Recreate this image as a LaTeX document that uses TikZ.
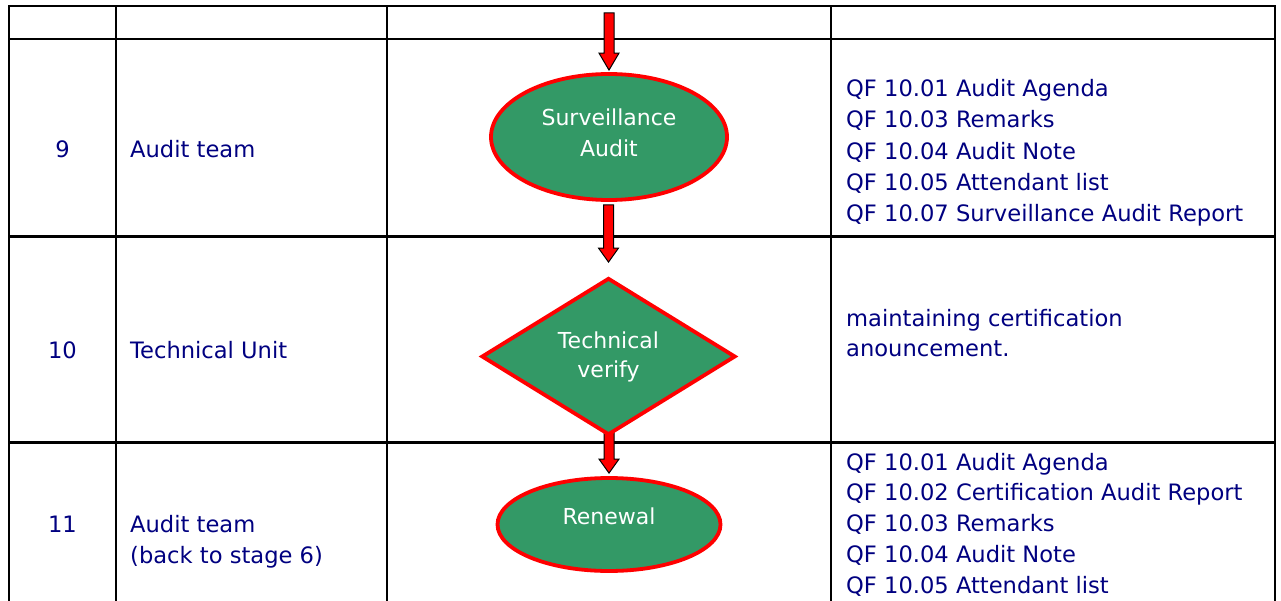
\documentclass[tikz,border=0pt]{standalone}
\usepackage{fontspec}
\setmainfont{DejaVu Sans}
\usetikzlibrary{shapes.geometric,calc,backgrounds}
\definecolor{navytext}{RGB}{0,0,128}
\definecolor{boxgreen}{RGB}{51,153,102}
\definecolor{boxred}{RGB}{255,0,0}
\newcommand\blockarrow[3]{%
  \path[blkarrow] let \p1=(#1), \p2=(#2) in
    (\x2-5pt,\y1) -- (\x2+5pt,\y1) -- (\x2+5pt,\y2+#3) -- (\x2+10pt,\y2+#3)
    -- (\x2,\y2) -- (\x2-10pt,\y2+#3) -- (\x2-5pt,\y2+#3) -- cycle;}
\begin{document}
\begin{tikzpicture}[x=1pt,y=-1pt,
  grid/.style={line width=2.2pt, draw=black, line cap=rect},
  txt/.style={text=navytext, font=\fontsize{22.6}{31.5}\selectfont, inner sep=0pt},
  shapebox/.style={draw=boxred, fill=boxgreen, line width=3.8pt, text=white, align=center, inner sep=0pt},
  ellip/.style={shapebox, ellipse, font=\fontsize{22}{31.5}\selectfont},
  dia/.style={shapebox, diamond, font=\fontsize{22}{29}\selectfont},
  blkarrow/.style={fill=boxred, draw=black, line width=1pt, line join=miter}
]
\useasboundingbox (0,0) rectangle (1281,601);
% table grid
\begin{scope}[on background layer]
\draw[grid] (9,6) -- (1275,6);
\draw[grid] (9,39) -- (1275,39);
\draw[grid] (9,236.5) -- (1275,236.5);
\draw[grid] (9,442.5) -- (1275,442.5);
\draw[grid] (9,6) -- (9,603);
\draw[grid] (116,6) -- (116,603);
\draw[grid] (387,6) -- (387,603);
\draw[grid] (831,6) -- (831,603);
\draw[grid] (1275,6) -- (1275,603);
\end{scope}
% flow shapes
\node[ellip, minimum width=236, minimum height=126] (sa) at (609,137) {Surveillance\\Audit\rule[-9pt]{0pt}{9pt}};
\node[dia, minimum width=254, minimum height=157] (tv) at (608.5,356.5) {Technical\\verify};
\node[ellip, minimum width=223, minimum height=93] (rn) at (609,524.5) {Renewal\rule[-16pt]{0pt}{16pt}};
\coordinate (top) at (609.5,13);
% arrows
\begin{scope}[on background layer]
\blockarrow{top}{$(sa.north)+(0,-2)$}{17pt}
\blockarrow{$(sa.south)+(0,3)$}{$(tv.north)+(0,-14)$}{14pt}
\blockarrow{$(tv.south)+(0,-8)$}{$(rn.north)+(0,-3)$}{14pt}
\end{scope}
% left columns
\node[txt, anchor=base] (n9) at (62.5,158) {9};
\node[txt, anchor=base west] (w9) at (130,158) {Audit team};
\node[txt, anchor=base] (n10) at (62.5,358) {10};
\node[txt, anchor=base west] (w10) at (130,358) {Technical Unit};
\node[txt, anchor=base] (n11) at (62.5,532) {11};
\node[txt, anchor=base west] (w11a) at (130,532) {Audit team};
\node[txt, anchor=base west] (w11b) at (130,563) {(back to stage 6)};
% right column
\foreach \t [count=\i from 0] in {QF 10.01 Audit Agenda, QF 10.03 Remarks, QF 10.04 Audit Note, QF 10.05 Attendant list, QF 10.07 Surveillance Audit Report}
  \node[txt, anchor=base west] (r9-\i) at (846,96.7+31.25*\i) {\t};
\node[txt, anchor=base west] (r10-0) at (846,326) {maintaining certification};
\node[txt, anchor=base west] (r10-1) at (846,356.7) {anouncement.};
\foreach \t [count=\i from 0] in {QF 10.01 Audit Agenda, QF 10.02 Certification Audit Report, QF 10.03 Remarks, QF 10.04 Audit Note, QF 10.05 Attendant list}
  \node[txt, anchor=base west] (r11-\i) at (846,470+30.8*\i) {\t};
\end{tikzpicture}
\end{document}
